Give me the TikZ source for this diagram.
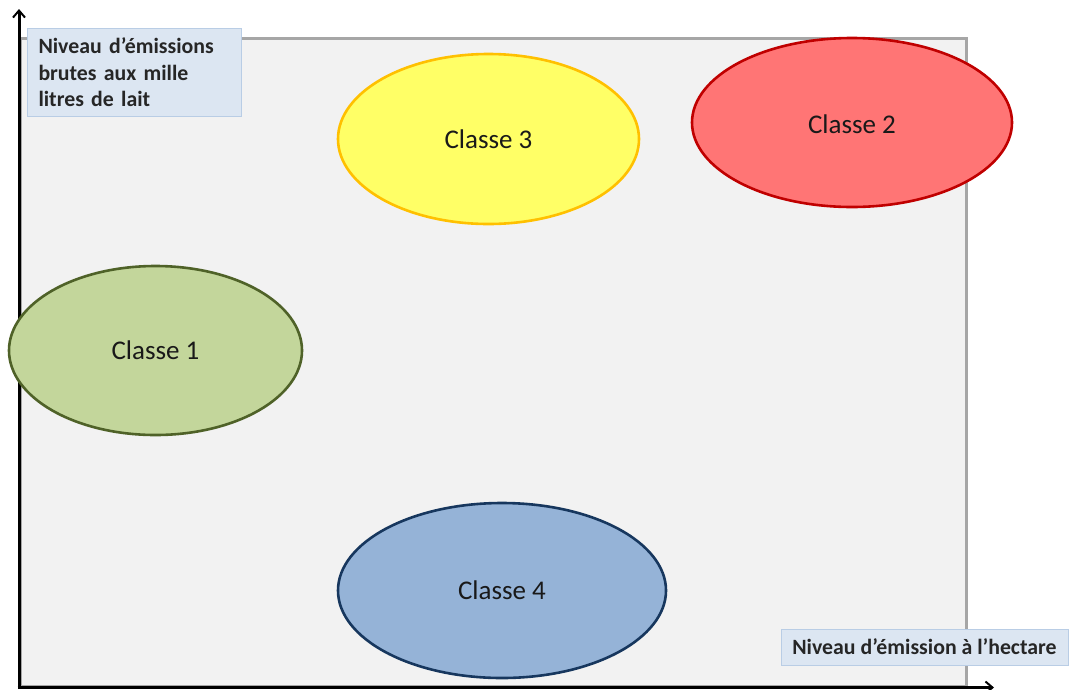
\documentclass[tikz,border=0pt]{standalone}
\usepackage{fontspec}
\setmainfont{Carlito}
\usetikzlibrary{arrows.meta,shapes.geometric}
\definecolor{panelfill}{HTML}{F2F2F2}
\definecolor{panelline}{HTML}{A6A6A6}
\definecolor{boxfill}{HTML}{DCE6F2}
\definecolor{boxline}{HTML}{B9CDE5}
\definecolor{greenfill}{HTML}{C3D69B}
\definecolor{greenline}{HTML}{4F6228}
\definecolor{redfill}{HTML}{FF7575}
\definecolor{redline}{HTML}{C00000}
\definecolor{yellowfill}{HTML}{FFFF66}
\definecolor{yellowline}{HTML}{FFC000}
\definecolor{bluefill}{HTML}{95B3D7}
\definecolor{blueline}{HTML}{17375E}
\tikzset{
  classe/.style={ellipse, line width=2.6pt, inner sep=0pt, font=\fontsize{27}{31}\selectfont, text=black!90},
  axislabel/.style={draw=boxline, fill=boxfill, line width=1pt, font=\bfseries\fontsize{21.8}{26.5}\selectfont, text=black!85},
  axisline/.style={line width=3pt, -{Straight Barb[length=7pt,width=12pt,line width=2pt]}}
}
\begin{document}
\begin{tikzpicture}[x=1pt,y=-1pt]
\useasboundingbox (0,0) rectangle (1070,689);
\draw[panelline, fill=panelfill, line width=3pt] (20,38.5) rectangle (966,686);
\coordinate (ybase) at (19,689);
\coordinate (xbase) at (17.5,687.5);
\coordinate (ytip) at (19,9);
\coordinate (xtip) at (994,687.5);
\draw[axisline] (ybase) -- (ytip);
\draw[axisline] (xbase) -- (xtip);
\node[axislabel, anchor=north west, text width=192pt, minimum height=88pt, inner xsep=11pt, align=left] (ylab) at (27,28)
  {Niveau d’émissions\\brutes aux mille\\litres de lait};
\node[axislabel, minimum width=287pt, minimum height=36pt, inner sep=0pt] (xlab) at (924.5,647)
  {Niveau d’émission à l’hectare};
\node[classe, draw=yellowline, fill=yellowfill, minimum width=301pt, minimum height=170pt] (c3) at (488.5,139) {Classe 3};
\node[classe, draw=redline, fill=redfill, minimum width=320pt, minimum height=169pt] (c2) at (852,122.5) {};
\node[font=\fontsize{27}{31}\selectfont, text=black!90] (c2t) at (852,124) {Classe 2};
\node[classe, draw=greenline, fill=greenfill, minimum width=293pt, minimum height=169pt] (c1) at (155.5,350.5) {Classe 1};
\node[classe, draw=blueline, fill=bluefill, minimum width=328pt, minimum height=175pt] (c4) at (502,590.5) {Classe 4};
\end{tikzpicture}
\end{document}
